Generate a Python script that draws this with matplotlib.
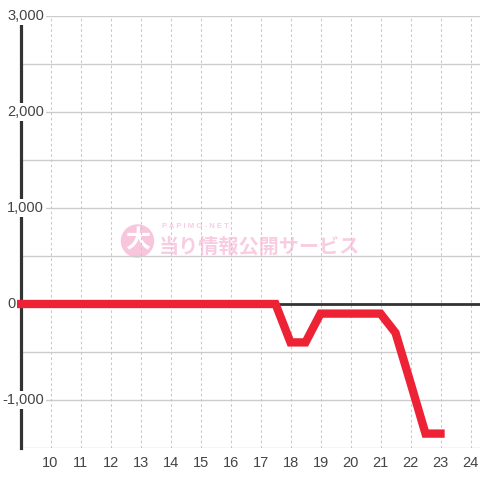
import matplotlib
matplotlib.use("Agg")
import matplotlib.pyplot as plt
from matplotlib.patches import Circle

# data
hours = [9.0, 9.5, 10.0, 10.5, 11.0, 11.5, 12.0, 12.5, 13.0, 13.5,
         14.0, 14.5, 15.0, 15.5, 16.0, 16.5, 17.0, 17.5, 18.0, 18.5,
         19.0, 19.5, 20.0, 20.5, 21.0, 21.5, 22.0, 22.5, 23.0]
values = [0, 0, 0, 0, 0, 0, 0, 0, 0, 0,
          0, 0, 0, 0, 0, 0, 0, 0, -400, -400,
          -100, -100, -100, -100, -100, -300, -820, -1350, -1350]
x_ticks = [10, 11, 12, 13, 14, 15, 16, 17, 18, 19, 20, 21, 22, 23, 24]
y_ticks = [-1000, 0, 1000, 2000, 3000]
y_labels = ["-1,000", "0", "1,000", "2,000", "3,000"]

plt.rcParams["font.family"] = ["Liberation Sans", "DejaVu Sans"]

fig = plt.figure(figsize=(4.8, 4.8), dpi=100)
ax = fig.add_axes([20.5 / 480, 32 / 480, 459.5 / 480, 432 / 480])
ax.set_xlim(9, 9 + 459.5 / 30)
ax.set_ylim(-1500, 3000)

# watermark (under the grid)
pink = "#f9cde1"
ft = fig.transFigure
ax.add_patch(Circle((137.5 / 480, 1 - 241 / 480), 16 / 480, transform=ft,
                    color="#f8c6dc", zorder=0.5, clip_on=False))
ax.text(137.5 / 480, 1 - 240 / 480, "大", color="white", fontsize=18, fontweight="bold",
        ha="center", va="center", family=["Noto Sans CJK JP"], transform=ft, zorder=0.6)
ax.text(162 / 480, 1 - 226.5 / 480, "P A P I M O - N E T", color=pink, fontsize=5.6,
        fontweight="bold", ha="left", va="center", transform=ft, zorder=0.6)
ax.text(159 / 480, 1 - 246 / 480, "当り情報公開サービス", color=pink, fontsize=14.5,
        fontweight="bold", ha="left", va="center", family=["Noto Sans CJK JP"],
        transform=ft, zorder=0.6)

# grid
for v in range(-1500, 3001, 500):
    ax.axhline(v, color="#cccccc", lw=1, zorder=1)
for x in x_ticks:
    ax.axvline(x, color="#c8c8c8", lw=0.75, ls=(0, (2.5, 2.5)), zorder=1)
ax.axhline(0, color="#333333", lw=2, zorder=2)

ax.plot(hours, values, color="#ee2235", lw=6, solid_joinstyle="miter",
        solid_capstyle="projecting", zorder=5, clip_on=False)

for s in ["top", "right", "bottom"]:
    ax.spines[s].set_visible(False)
ax.spines["left"].set_color("#333333")
ax.spines["left"].set_linewidth(2.3)

ax.set_xticks(x_ticks)
ax.set_xticklabels([str(t) for t in x_ticks])
ax.tick_params(axis="x", length=0, pad=6, labelsize=10.5, labelcolor="#444444")
ax.set_yticks([])

# y labels start at x=7px; the minus sign hangs to the left
tr = ax.get_yaxis_transform()
for v, lbl in zip(y_ticks, y_labels):
    left_px = 2 if lbl.startswith("-") else 7
    ax.text((left_px - 20.5) / 459.5, v, lbl, transform=tr, ha="left", va="center",
            fontsize=10.5, color="#444444", clip_on=False, zorder=10,
            bbox=dict(facecolor="white", edgecolor="none", pad=1.5))

fig.savefig("out.png", dpi=100)
